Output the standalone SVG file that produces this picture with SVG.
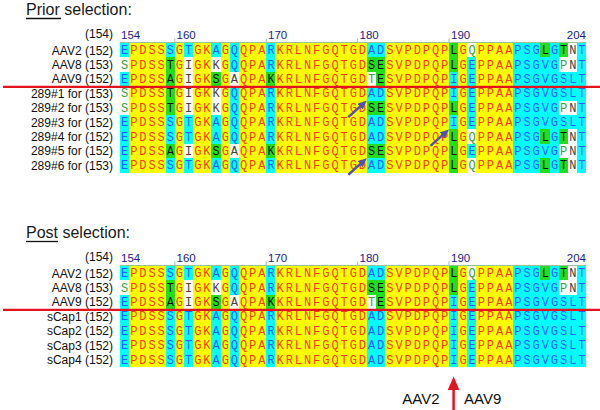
<svg xmlns="http://www.w3.org/2000/svg" width="600" height="410" viewBox="0 0 600 410">
<style>
.title{font-family:"Liberation Sans",Arial,sans-serif;font-size:16px;fill:#1a1a1a}
.lab{font-family:"Liberation Sans",Arial,sans-serif;font-size:12px;fill:#111;text-anchor:end}
.num{font-family:"Liberation Sans",Arial,sans-serif;font-size:11.5px;fill:#1c1c8a}
.seq{font-family:"Liberation Mono","Courier New",monospace;font-size:12px;letter-spacing:1.94px;fill:#f04010}
.c{fill:#1f5fff}.g{fill:#111}.wg{fill:#3ca03c}.wk{fill:#444}
.Y{fill:#ffff00}.C{fill:#00ffff}.G{fill:#22dd22}.W{fill:#ffffff}
rect{shape-rendering:crispEdges}
.hl{stroke:#9cc29c;stroke-width:1}
.red{stroke:#e4141e;stroke-width:2.2}
.ba{stroke:#5050b8;stroke-width:2.5;fill:none}
.big{font-family:"Liberation Sans",Arial,sans-serif;font-size:15px;fill:#111}
</style>
<defs>
<marker id="ah" markerWidth="9" markerHeight="8" refX="3" refY="4" orient="auto" markerUnits="userSpaceOnUse"><path d="M0,0 L9,4 L0,8 z" fill="#5050b8"/></marker>
</defs>
<rect width="600" height="410" fill="#fff"/>

<g id="prior">
<text class="title" x="26" y="15">Prior selection:</text>
<line x1="26" y1="18.5" x2="61" y2="18.5" stroke="#111" stroke-width="1.3"/>
<text class="lab" x="113" y="37.5">(154)</text>
<text class="num" x="121" y="38.5">154</text>
<text class="num" x="176.5" y="38.5">160</text>
<text class="num" x="268" y="38.5">170</text>
<text class="num" x="359.5" y="38.5">180</text>
<text class="num" x="451" y="38.5">190</text>
<text class="num" x="586" y="38.5" text-anchor="end">204</text>
<rect class="Y" x="120" y="43" width="393.02" height="129.6"/>
<rect class="C" x="513.02" y="43" width="73.12" height="129.6"/>
<rect class="C" x="120" y="43" width="9.14" height="129.6"/>
<rect class="C" x="165.7" y="43" width="9.14" height="129.6"/>
<rect class="C" x="183.98" y="43" width="9.14" height="129.6"/>
<rect class="C" x="211.4" y="43" width="9.14" height="129.6"/>
<rect class="C" x="229.68" y="43" width="9.14" height="129.6"/>
<rect class="C" x="266.24" y="43" width="9.14" height="129.6"/>
<rect class="C" x="366.78" y="43" width="18.28" height="129.6"/>
<rect class="C" x="449.04" y="43" width="9.14" height="129.6"/>
<rect class="C" x="467.32" y="43" width="9.14" height="129.6"/>
<rect class="W" x="120" y="57.4" width="9.14" height="14.4"/>
<rect class="W" x="120" y="86.2" width="9.14" height="28.8"/>
<rect class="G" x="165.7" y="57.4" width="9.14" height="57.6"/>
<rect class="G" x="165.7" y="143.8" width="9.14" height="14.4"/>
<rect class="W" x="183.98" y="57.4" width="9.14" height="57.6"/>
<rect class="W" x="183.98" y="143.8" width="9.14" height="14.4"/>
<rect class="W" x="211.4" y="57.4" width="9.14" height="14.4"/>
<rect class="G" x="211.4" y="71.8" width="9.14" height="14.4"/>
<rect class="W" x="211.4" y="86.2" width="9.14" height="28.8"/>
<rect class="G" x="211.4" y="143.8" width="9.14" height="14.4"/>
<rect class="W" x="229.68" y="71.8" width="9.14" height="14.4"/>
<rect class="W" x="229.68" y="143.8" width="9.14" height="14.4"/>
<rect class="G" x="266.24" y="71.8" width="9.14" height="14.4"/>
<rect class="G" x="266.24" y="143.8" width="9.14" height="14.4"/>
<rect class="G" x="366.78" y="57.4" width="18.28" height="14.4"/>
<rect class="W" x="366.78" y="71.8" width="9.14" height="14.4"/>
<rect class="G" x="375.92" y="71.8" width="9.14" height="14.4"/>
<rect class="G" x="366.78" y="100.6" width="18.28" height="14.4"/>
<rect class="G" x="366.78" y="143.8" width="18.28" height="14.4"/>
<rect class="G" x="449.04" y="43" width="9.14" height="28.8"/>
<rect class="G" x="449.04" y="100.6" width="9.14" height="14.4"/>
<rect class="G" x="449.04" y="129.4" width="9.14" height="43.2"/>
<rect class="W" x="467.32" y="43" width="9.14" height="14.4"/>
<rect class="W" x="467.32" y="129.4" width="9.14" height="14.4"/>
<rect class="W" x="467.32" y="158.2" width="9.14" height="14.4"/>
<rect class="G" x="540.44" y="43" width="9.14" height="14.4"/>
<rect class="G" x="540.44" y="129.4" width="9.14" height="14.4"/>
<rect class="G" x="540.44" y="158.2" width="9.14" height="14.4"/>
<rect class="G" x="558.72" y="43" width="9.14" height="14.4"/>
<rect class="G" x="558.72" y="129.4" width="9.14" height="14.4"/>
<rect class="G" x="558.72" y="158.2" width="9.14" height="14.4"/>
<rect class="W" x="567.86" y="43" width="9.14" height="14.4"/>
<rect class="W" x="567.86" y="129.4" width="9.14" height="14.4"/>
<rect class="W" x="567.86" y="158.2" width="9.14" height="14.4"/>
<rect class="W" x="558.72" y="57.4" width="18.28" height="14.4"/>
<rect class="W" x="558.72" y="100.6" width="18.28" height="14.4"/>
<rect class="W" x="558.72" y="143.8" width="18.28" height="14.4"/>
<line class="hl" x1="120" y1="42.5" x2="586.14" y2="42.5"/>
<path class="hl" d="M174.84,38.5V42.5M266.24,38.5V42.5M357.64,38.5V42.5M449.04,38.5V42.5"/>
<text class="lab" x="113" y="54.5">AAV2 (152)</text>
<text class="lab" x="113" y="68.9">AAV8 (153)</text>
<text class="lab" x="113" y="83.3">AAV9 (152)</text>
<text class="lab" x="113" y="97.7">289#1 for (153)</text>
<text class="lab" x="113" y="112.1">289#2 for (153)</text>
<text class="lab" x="113" y="126.5">289#3 for (152)</text>
<text class="lab" x="113" y="140.9">289#4 for (152)</text>
<text class="lab" x="113" y="155.3">289#5 for (152)</text>
<text class="lab" x="113" y="169.7">289#6 for (153)</text>
<text class="seq" x="120.97" y="54.2"><tspan class="c">E</tspan>PDSS<tspan class="c">S</tspan>G<tspan class="c">T</tspan>GK<tspan class="c">A</tspan>G<tspan class="c">Q</tspan>QPA<tspan class="c">R</tspan>KRLNFGQTGD<tspan class="c">AD</tspan>SVPDPQP<tspan class="g">L</tspan>G<tspan class="wg">Q</tspan>PPAA<tspan class="c">PSG</tspan><tspan class="g">L</tspan><tspan class="c">G</tspan><tspan class="g">T</tspan><tspan class="wk">N</tspan><tspan class="c">T</tspan></text>
<text class="seq" x="120.97" y="68.6"><tspan class="wg">S</tspan>PDSS<tspan class="g">T</tspan>G<tspan class="wk">I</tspan>GK<tspan class="wk">K</tspan>G<tspan class="c">Q</tspan>QPA<tspan class="c">R</tspan>KRLNFGQTGD<tspan class="g">SE</tspan>SVPDPQP<tspan class="g">L</tspan>G<tspan class="c">E</tspan>PPAA<tspan class="c">PSGVG</tspan><tspan class="wg">P</tspan><tspan class="wk">N</tspan><tspan class="c">T</tspan></text>
<text class="seq" x="120.97" y="83"><tspan class="c">E</tspan>PDSS<tspan class="g">A</tspan>G<tspan class="wk">I</tspan>GK<tspan class="g">S</tspan>G<tspan class="wk">A</tspan>QPA<tspan class="g">K</tspan>KRLNFGQTGD<tspan class="wg">T</tspan><tspan class="g">E</tspan>SVPDPQP<tspan class="c">I</tspan>G<tspan class="c">E</tspan>PPAA<tspan class="c">PSGVGSLT</tspan></text>
<text class="seq" x="120.97" y="97.4"><tspan class="wg">S</tspan>PDSS<tspan class="g">T</tspan>G<tspan class="wk">I</tspan>GK<tspan class="wk">K</tspan>G<tspan class="c">Q</tspan>QPA<tspan class="c">R</tspan>KRLNFGQTGD<tspan class="c">AD</tspan>SVPDPQP<tspan class="c">I</tspan>G<tspan class="c">E</tspan>PPAA<tspan class="c">PSGVGSLT</tspan></text>
<text class="seq" x="120.97" y="111.8"><tspan class="wg">S</tspan>PDSS<tspan class="g">T</tspan>G<tspan class="wk">I</tspan>GK<tspan class="wk">K</tspan>G<tspan class="c">Q</tspan>QPA<tspan class="c">R</tspan>KRLNFGQTGD<tspan class="g">SE</tspan>SVPDPQP<tspan class="g">L</tspan>G<tspan class="c">E</tspan>PPAA<tspan class="c">PSGVG</tspan><tspan class="wg">P</tspan><tspan class="wk">N</tspan><tspan class="c">T</tspan></text>
<text class="seq" x="120.97" y="126.2"><tspan class="c">E</tspan>PDSS<tspan class="c">S</tspan>G<tspan class="c">T</tspan>GK<tspan class="c">A</tspan>G<tspan class="c">Q</tspan>QPA<tspan class="c">R</tspan>KRLNFGQTGD<tspan class="c">AD</tspan>SVPDPQP<tspan class="c">I</tspan>G<tspan class="c">E</tspan>PPAA<tspan class="c">PSGVGSLT</tspan></text>
<text class="seq" x="120.97" y="140.6"><tspan class="c">E</tspan>PDSS<tspan class="c">S</tspan>G<tspan class="c">T</tspan>GK<tspan class="c">A</tspan>G<tspan class="c">Q</tspan>QPA<tspan class="c">R</tspan>KRLNFGQTGD<tspan class="c">AD</tspan>SVPDPQP<tspan class="g">L</tspan>G<tspan class="wg">Q</tspan>PPAA<tspan class="c">PSG</tspan><tspan class="g">L</tspan><tspan class="c">G</tspan><tspan class="g">T</tspan><tspan class="wk">N</tspan><tspan class="c">T</tspan></text>
<text class="seq" x="120.97" y="155"><tspan class="c">E</tspan>PDSS<tspan class="g">A</tspan>G<tspan class="wk">I</tspan>GK<tspan class="g">S</tspan>G<tspan class="wk">A</tspan>QPA<tspan class="g">K</tspan>KRLNFGQTGD<tspan class="g">SE</tspan>SVPDPQP<tspan class="g">L</tspan>G<tspan class="c">E</tspan>PPAA<tspan class="c">PSGVG</tspan><tspan class="wg">P</tspan><tspan class="wk">N</tspan><tspan class="c">T</tspan></text>
<text class="seq" x="120.97" y="169.4"><tspan class="c">E</tspan>PDSS<tspan class="c">S</tspan>G<tspan class="c">T</tspan>GK<tspan class="c">A</tspan>G<tspan class="c">Q</tspan>QPA<tspan class="c">R</tspan>KRLNFGQTGD<tspan class="c">AD</tspan>SVPDPQP<tspan class="g">L</tspan>G<tspan class="wg">Q</tspan>PPAA<tspan class="c">PSG</tspan><tspan class="g">L</tspan><tspan class="c">G</tspan><tspan class="g">T</tspan><tspan class="wk">N</tspan><tspan class="c">T</tspan></text>
<line class="red" x1="3" y1="86.8" x2="600" y2="86.8"/>
</g>

<g id="post" transform="translate(0,223)">
<text class="title" x="26" y="15">Post selection:</text>
<line x1="26" y1="18.5" x2="58" y2="18.5" stroke="#111" stroke-width="1.3"/>
<text class="lab" x="113" y="37.5">(154)</text>
<text class="num" x="121" y="38.5">154</text>
<text class="num" x="176.5" y="38.5">160</text>
<text class="num" x="268" y="38.5">170</text>
<text class="num" x="359.5" y="38.5">180</text>
<text class="num" x="451" y="38.5">190</text>
<text class="num" x="586" y="38.5" text-anchor="end">204</text>
<rect class="Y" x="120" y="43" width="393.02" height="100.8"/>
<rect class="C" x="513.02" y="43" width="73.12" height="100.8"/>
<rect class="C" x="120" y="43" width="9.14" height="100.8"/>
<rect class="C" x="165.7" y="43" width="9.14" height="100.8"/>
<rect class="C" x="183.98" y="43" width="9.14" height="100.8"/>
<rect class="C" x="211.4" y="43" width="9.14" height="100.8"/>
<rect class="C" x="229.68" y="43" width="9.14" height="100.8"/>
<rect class="C" x="266.24" y="43" width="9.14" height="100.8"/>
<rect class="C" x="366.78" y="43" width="18.28" height="100.8"/>
<rect class="C" x="449.04" y="43" width="9.14" height="100.8"/>
<rect class="C" x="467.32" y="43" width="9.14" height="100.8"/>
<rect class="W" x="120" y="57.4" width="9.14" height="14.4"/>
<rect class="G" x="165.7" y="57.4" width="9.14" height="28.8"/>
<rect class="W" x="183.98" y="57.4" width="9.14" height="28.8"/>
<rect class="W" x="211.4" y="57.4" width="9.14" height="14.4"/>
<rect class="G" x="211.4" y="71.8" width="9.14" height="14.4"/>
<rect class="W" x="229.68" y="71.8" width="9.14" height="14.4"/>
<rect class="G" x="266.24" y="71.8" width="9.14" height="14.4"/>
<rect class="G" x="366.78" y="57.4" width="18.28" height="14.4"/>
<rect class="W" x="366.78" y="71.8" width="9.14" height="14.4"/>
<rect class="G" x="375.92" y="71.8" width="9.14" height="14.4"/>
<rect class="G" x="449.04" y="43" width="9.14" height="28.8"/>
<rect class="W" x="467.32" y="43" width="9.14" height="14.4"/>
<rect class="G" x="540.44" y="43" width="9.14" height="14.4"/>
<rect class="G" x="558.72" y="43" width="9.14" height="14.4"/>
<rect class="W" x="567.86" y="43" width="9.14" height="14.4"/>
<rect class="W" x="558.72" y="57.4" width="18.28" height="14.4"/>
<line class="hl" x1="120" y1="42.5" x2="586.14" y2="42.5"/>
<path class="hl" d="M174.84,38.5V42.5M266.24,38.5V42.5M357.64,38.5V42.5M449.04,38.5V42.5"/>
<text class="lab" x="113" y="54.5">AAV2 (152)</text>
<text class="lab" x="113" y="68.9">AAV8 (153)</text>
<text class="lab" x="113" y="83.3">AAV9 (152)</text>
<text class="lab" x="113" y="97.7">sCap1 (152)</text>
<text class="lab" x="113" y="112.1">sCap2 (152)</text>
<text class="lab" x="113" y="126.5">sCap3 (152)</text>
<text class="lab" x="113" y="140.9">sCap4 (152)</text>
<text class="seq" x="120.97" y="54.2"><tspan class="c">E</tspan>PDSS<tspan class="c">S</tspan>G<tspan class="c">T</tspan>GK<tspan class="c">A</tspan>G<tspan class="c">Q</tspan>QPA<tspan class="c">R</tspan>KRLNFGQTGD<tspan class="c">AD</tspan>SVPDPQP<tspan class="g">L</tspan>G<tspan class="wg">Q</tspan>PPAA<tspan class="c">PSG</tspan><tspan class="g">L</tspan><tspan class="c">G</tspan><tspan class="g">T</tspan><tspan class="wk">N</tspan><tspan class="c">T</tspan></text>
<text class="seq" x="120.97" y="68.6"><tspan class="wg">S</tspan>PDSS<tspan class="g">T</tspan>G<tspan class="wk">I</tspan>GK<tspan class="wk">K</tspan>G<tspan class="c">Q</tspan>QPA<tspan class="c">R</tspan>KRLNFGQTGD<tspan class="g">SE</tspan>SVPDPQP<tspan class="g">L</tspan>G<tspan class="c">E</tspan>PPAA<tspan class="c">PSGVG</tspan><tspan class="wg">P</tspan><tspan class="wk">N</tspan><tspan class="c">T</tspan></text>
<text class="seq" x="120.97" y="83"><tspan class="c">E</tspan>PDSS<tspan class="g">A</tspan>G<tspan class="wk">I</tspan>GK<tspan class="g">S</tspan>G<tspan class="wk">A</tspan>QPA<tspan class="g">K</tspan>KRLNFGQTGD<tspan class="wg">T</tspan><tspan class="g">E</tspan>SVPDPQP<tspan class="c">I</tspan>G<tspan class="c">E</tspan>PPAA<tspan class="c">PSGVGSLT</tspan></text>
<text class="seq" x="120.97" y="97.4"><tspan class="c">E</tspan>PDSS<tspan class="c">S</tspan>G<tspan class="c">T</tspan>GK<tspan class="c">A</tspan>G<tspan class="c">Q</tspan>QPA<tspan class="c">R</tspan>KRLNFGQTGD<tspan class="c">AD</tspan>SVPDPQP<tspan class="c">I</tspan>G<tspan class="c">E</tspan>PPAA<tspan class="c">PSGVGSLT</tspan></text>
<text class="seq" x="120.97" y="111.8"><tspan class="c">E</tspan>PDSS<tspan class="c">S</tspan>G<tspan class="c">T</tspan>GK<tspan class="c">A</tspan>G<tspan class="c">Q</tspan>QPA<tspan class="c">R</tspan>KRLNFGQTGD<tspan class="c">AD</tspan>SVPDPQP<tspan class="c">I</tspan>G<tspan class="c">E</tspan>PPAA<tspan class="c">PSGVGSLT</tspan></text>
<text class="seq" x="120.97" y="126.2"><tspan class="c">E</tspan>PDSS<tspan class="c">S</tspan>G<tspan class="c">T</tspan>GK<tspan class="c">A</tspan>G<tspan class="c">Q</tspan>QPA<tspan class="c">R</tspan>KRLNFGQTGD<tspan class="c">AD</tspan>SVPDPQP<tspan class="c">I</tspan>G<tspan class="c">E</tspan>PPAA<tspan class="c">PSGVGSLT</tspan></text>
<text class="seq" x="120.97" y="140.6"><tspan class="c">E</tspan>PDSS<tspan class="c">S</tspan>G<tspan class="c">T</tspan>GK<tspan class="c">A</tspan>G<tspan class="c">Q</tspan>QPA<tspan class="c">R</tspan>KRLNFGQTGD<tspan class="c">AD</tspan>SVPDPQP<tspan class="c">I</tspan>G<tspan class="c">E</tspan>PPAA<tspan class="c">PSGVGSLT</tspan></text>
<line class="red" x1="3" y1="86.8" x2="600" y2="86.8"/>
</g>

<g id="connectors">
<line class="ba" x1="348.3" y1="117.1" x2="362.32" y2="104.59" marker-end="url(#ah)"/>
<line class="ba" x1="430.5" y1="145.9" x2="444.52" y2="133.39" marker-end="url(#ah)"/>
<line class="ba" x1="348.3" y1="174.7" x2="362.32" y2="162.19" marker-end="url(#ah)"/>
<line x1="453.6" y1="410" x2="453.6" y2="388" stroke="#e4141e" stroke-width="2.5"/>
<path d="M453.6,376.5 L459.4,390 L447.8,390 z" fill="#e4141e"/>
</g>
<g id="arrow-labels">
<text class="big" x="439.5" y="403.5" text-anchor="end">AAV2</text>
<text class="big" x="464" y="403.5">AAV9</text>
</g>
</svg>
